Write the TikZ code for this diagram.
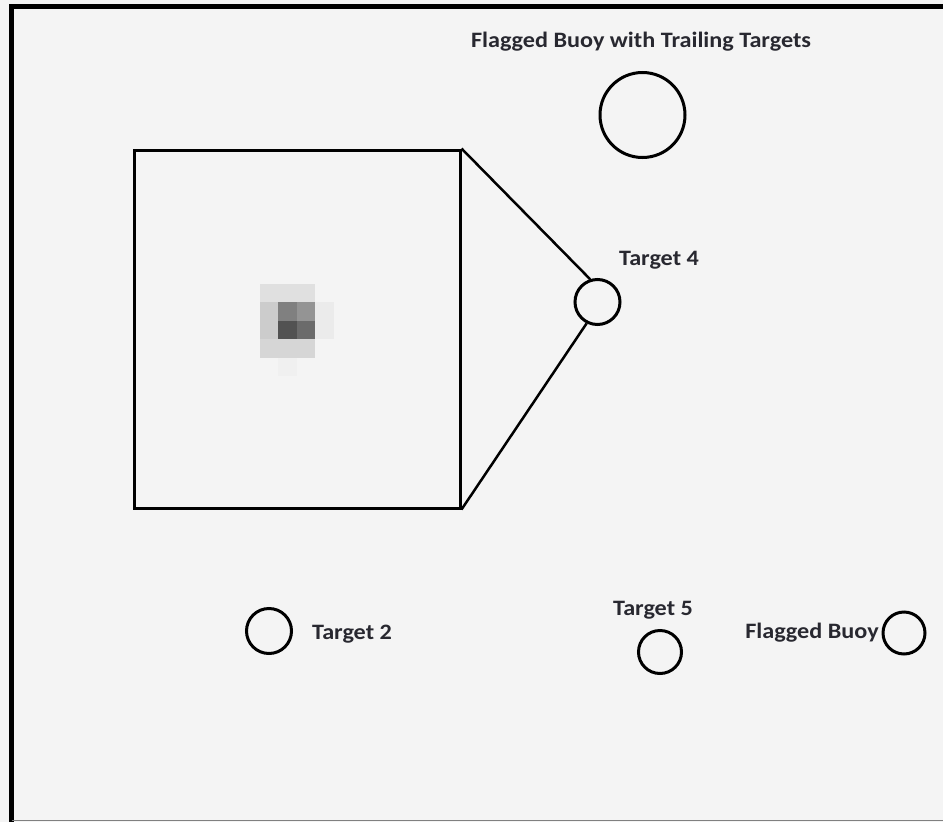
\documentclass[tikz,border=0pt]{standalone}
\usepackage{fontspec}
\usepackage{graphicx}
\setmainfont{Carlito}
\usetikzlibrary{positioning}
\definecolor{sheet}{RGB}{244,244,244}
\definecolor{ink}{RGB}{40,40,48}
\newcommand{\wide}[1]{\scalebox{1.1}[1]{#1}}
\tikzset{
  buoy/.style={circle,draw=black,line width=3pt,inner sep=0pt,minimum size=#1},
  buoy/.default=45pt,
  lbl/.style={text=ink,font=\fontsize{22}{24}\selectfont\bfseries,inner sep=0pt},
  px/.style={fill=#1,draw=none}
}
\begin{document}
\begin{tikzpicture}[x=1pt,y=-1pt]
\useasboundingbox (0,0) rectangle (943,822);
\fill[sheet] (0,0) rectangle (943,822);
% frame
\draw[line width=4.5pt] (11.5,822) -- (11.5,6.5) -- (943,6.5);
\draw[gray,line width=1.5pt] (11.5,820.5) -- (943,820.5);
% zoomed view with the blob
\node[draw,line width=3pt,minimum width=326pt,minimum height=358pt,inner sep=0pt] at (297,329) (view) {};
\fill[px=black!12] (259.5,283.5) rectangle (315,302);
\fill[px=black!20] (259.5,302) rectangle (278,339);
\fill[px=black!50] (278,302) rectangle (296.5,320.5);
\fill[px=black!42] (296.5,302) rectangle (315,320.5);
\fill[px=black!68] (278,320.5) rectangle (296.5,339);
\fill[px=black!58] (296.5,320.5) rectangle (315,339);
\fill[px=black!8] (315,302) rectangle (333.5,339);
\fill[px=black!16] (259.5,339) rectangle (315,357.5);
\fill[px=black!6] (278,357.5) rectangle (296.5,376);
% targets
\node[buoy=85pt] at (642.5,115) (trail) {};
\node[lbl] at (641,42) (trailtxt) {\wide{Flagged Buoy with Trailing Targets}};
\node[buoy] at (597.5,302) (t4) {};
\node[lbl] at (659,260) (t4txt) {\wide{Target 4}};
\node[buoy] at (269,631) (t2) {};
\node[lbl] at (352,634) (t2txt) {\wide{Target 2}};
\node[buoy=43pt] at (660,652) (t5) {};
\node[lbl] at (653,610) (t5txt) {\wide{Target 5}};
\node[buoy=42pt] at (904,633) (fb) {};
\node[lbl] at (812,633) (fbtxt) {\wide{Flagged Buoy}};
% zoom lines
\draw[line width=2.5pt] (view.north east) -- (t4.108);
\draw[line width=2.5pt] (view.south east) -- (t4.243);
\end{tikzpicture}
\end{document}
